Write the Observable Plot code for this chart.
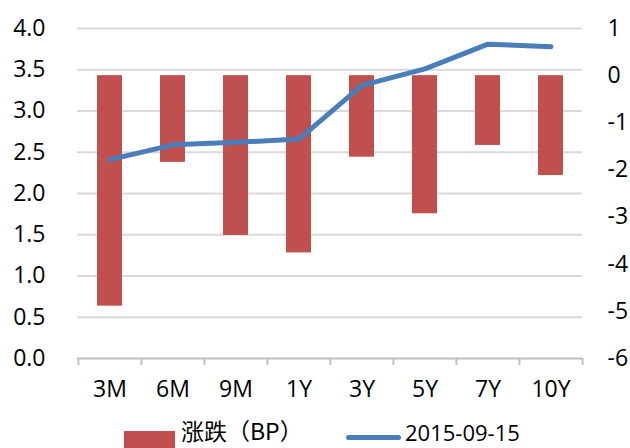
<!DOCTYPE html>
<html>
<head>
<meta charset="utf-8">
<script src="https://cdn.jsdelivr.net/npm/d3@7"></script>
<script src="https://cdn.jsdelivr.net/npm/@observablehq/plot@0.6"></script>
<style>
  body { margin: 0; background: #fff; }
  #wrap { width: 630px; height: 448px; position: relative; }
  #legend { position: absolute; left: 0; top: 418px; width: 630px; height: 30px; font-family: "Open Sans", "Noto Sans CJK SC", sans-serif; font-size: 22px; color: #000; }
  #legend .sw { position: absolute; }
  #legend .txt { position: absolute; line-height: 1; white-space: nowrap; }
  .cjk { font-family: "Noto Sans CJK SC", sans-serif; font-size: 23px; }
</style>
</head>
<body>
<div id="wrap">
  <div id="chart"></div>
  <div id="legend"></div>
</div>
<script>
const categories = ["3M", "6M", "9M", "1Y", "3Y", "5Y", "7Y", "10Y"];
const changeBP = [-4.89, -1.84, -3.39, -3.76, -1.73, -2.93, -1.48, -2.12];
const yield20150915 = [2.41, 2.59, 2.62, 2.66, 3.31, 3.51, 3.81, 3.78];
const leftTicks = [0, 0.5, 1, 1.5, 2, 2.5, 3, 3.5, 4];
const rightTicks = [-6, -5, -4, -3, -2, -1, 0, 1];
const seriesNames = ["涨跌（BP）", "2015-09-15"];

const barColor = "#C0504D";
const lineColor = "#4A7EBB";

// map right-axis values (-6..1) onto the left axis scale (0..4)
const rightMin = -6, rightMax = 1, leftMin = 0, leftMax = 4;
const toLeft = v => leftMin + (v - rightMin) * (leftMax - leftMin) / (rightMax - rightMin);

const W = 630, H = 418, mL = 77, mR = 48, mT = 28, mB = 60;
const bw = (W - mL - mR) / categories.length;

const rows = categories.map((c, i) => ({cat: c, bp: changeBP[i], yld: yield20150915[i]}));

const chart = Plot.plot({
  width: W, height: H,
  marginLeft: mL, marginRight: mR, marginTop: mT, marginBottom: mB,
  style: {fontFamily: "Open Sans, sans-serif", fontSize: "23px", color: "#000", background: "#fff"},
  x: {domain: categories, padding: 0, axis: null},
  y: {domain: [leftMin, leftMax], axis: null},
  marks: [
    Plot.ruleY(leftTicks.filter(d => d > 0), {stroke: "#d9d9d9", strokeWidth: 2}),
    Plot.barY(rows, {x: "cat", y1: toLeft(0), y2: d => toLeft(d.bp), fill: barColor, insetLeft: 19, insetRight: 19}),
    Plot.ruleY([leftMin], {stroke: "#bfbfbf", strokeWidth: 2}),
    Plot.ruleX(categories, {x: d => d, y1: leftMin, y2: leftMin, dx: -bw / 2, insetBottom: -7, stroke: "#bfbfbf", strokeWidth: 2}),
    Plot.ruleX([categories[categories.length - 1]], {x: d => d, y1: leftMin, y2: leftMin, dx: bw / 2, insetBottom: -7, stroke: "#bfbfbf", strokeWidth: 2}),
    Plot.line(rows, {x: "cat", y: "yld", stroke: lineColor, strokeWidth: 5, strokeLinecap: "round", strokeLinejoin: "round"}),
    Plot.axisY(leftTicks, {anchor: "left", label: null, tickSize: 0, tickPadding: 32, tickFormat: d3.format(".1f"), fill: "#000"}),
    Plot.axisY(rightTicks.map(toLeft), {anchor: "right", label: null, tickSize: 0, tickPadding: 25, tickFormat: (d, i) => String(rightTicks[i]), fill: "#000"}),
    Plot.axisX({anchor: "bottom", label: null, tickSize: 0, tickPadding: 22, fill: "#000"})
  ]
});
document.getElementById("chart").appendChild(chart);

const legend = document.getElementById("legend");
legend.innerHTML = `
  <span class="sw" style="left:124px;top:13px;width:51px;height:17px;background:${barColor}"></span>
  <span class="txt cjk" style="left:181px;top:1px">${seriesNames[0]}</span>
  <span class="sw" style="left:346px;top:17px;width:55px;height:5px;border-radius:3px;background:${lineColor}"></span>
  <span class="txt" style="left:405px;top:3px">${seriesNames[1]}</span>
`;
</script>
</body>
</html>
